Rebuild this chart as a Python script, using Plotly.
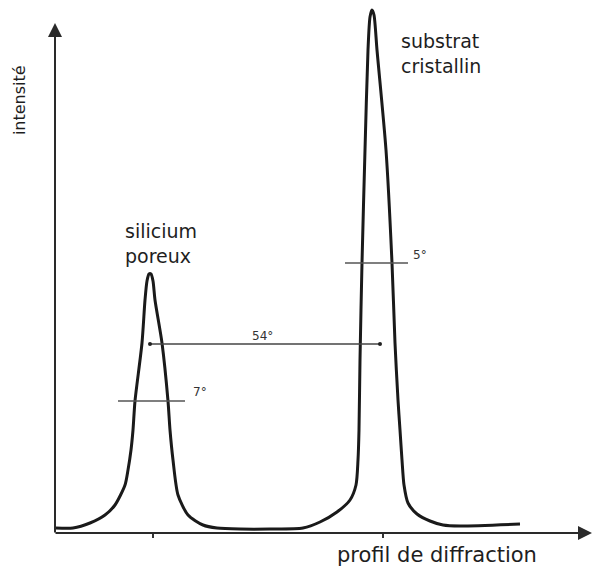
import plotly.graph_objects as go

# Diffraction profile (arbitrary angle units, arbitrary intensity)
angle = [1, 18, 35, 50, 60, 70, 73, 76, 78, 80, 87, 90, 92, 94, 96, 98, 100, 107, 113, 115, 118,
         123, 133, 148, 162, 185, 215, 248, 265, 282, 295, 301, 303, 304, 305, 307, 310, 313,
         315, 317, 319, 322, 331, 337, 340, 343, 345, 347, 349, 353, 362, 375, 388, 405, 465]
intensity = [5, 5, 10, 18, 28, 48, 63, 83, 103, 132, 190, 233, 252, 259, 259, 252, 233, 190, 132, 103, 73,
             38, 18, 8, 5, 4, 4, 5, 11, 21, 33, 48, 73, 103, 173, 270, 383, 483,
             516, 523, 518, 483, 383, 270, 190, 133, 103, 73, 48, 30, 19, 12, 8, 7, 9]

# Measurement bars: (x start, x end, level) and their labels
fwhm_left = (63, 130, 132)
separation = (95, 325, 189)
fwhm_right = (290, 353, 270)
labels_deg = ["7°", "54°", "5°"]
label_pos = [(145, 141), (207, 197), (365, 278)]
peak_names = ["silicium<br>poreux", "substrat<br>cristallin"]
peak_name_pos = [(68, 290), (344, 480)]
tick_positions = [98, 328]

TXT = "#1e1e1e"

fig = go.Figure()

fig.add_trace(go.Scatter(x=angle, y=intensity, mode="lines",
                         line=dict(color="#1a1a1a", width=3, shape="spline", smoothing=0.7),
                         hoverinfo="skip", showlegend=False))

for (x0, x1, yv) in [fwhm_left, fwhm_right]:
    fig.add_trace(go.Scatter(x=[x0, x1], y=[yv, yv], mode="lines",
                             line=dict(color="#555555", width=1.3),
                             hoverinfo="skip", showlegend=False))
fig.add_trace(go.Scatter(x=[separation[0], separation[1]], y=[separation[2]] * 2,
                         mode="lines+markers",
                         line=dict(color="#444444", width=1.3),
                         marker=dict(size=4, color="#222222"),
                         hoverinfo="skip", showlegend=False))

annotations = []
# axes arrows
annotations.append(dict(x=0, y=510, ax=0, ay=-1, xref="x", yref="y", axref="x", ayref="y",
                        showarrow=True, arrowhead=2, arrowsize=1.4, arrowwidth=2,
                        arrowcolor="#2a2a2a", text=""))
annotations.append(dict(x=537, y=0, ax=-1, ay=0, xref="x", yref="y", axref="x", ayref="y",
                        showarrow=True, arrowhead=2, arrowsize=1.4, arrowwidth=2,
                        arrowcolor="#2a2a2a", text=""))

for t, (px, py) in zip(labels_deg, label_pos):
    annotations.append(dict(x=px, y=py, xref="x", yref="y", text=t, showarrow=False,
                            font=dict(family="DejaVu Sans", size=12, color="#333333")))
for t, (px, py) in zip(peak_names, peak_name_pos):
    annotations.append(dict(x=px, y=py, xref="x", yref="y", text=t, showarrow=False,
                            xanchor="left", align="left",
                            font=dict(family="DejaVu Sans", size=19, color=TXT)))

annotations.append(dict(x=0.709, y=-0.041, xref="paper", yref="paper", text="profil de diffraction",
                        xanchor="center", yanchor="middle",
                        showarrow=False, font=dict(family="DejaVu Sans", size=21, color=TXT)))
annotations.append(dict(x=-0.067, y=0.812, xref="paper", yref="paper", text="intensité", textangle=-90,
                        xanchor="center", yanchor="middle",
                        showarrow=False, font=dict(family="DejaVu Sans", size=16, color=TXT)))

fig.update_layout(
    width=594, height=570,
    margin=dict(l=55, r=0, t=0, b=37),
    paper_bgcolor="white", plot_bgcolor="white",
    annotations=annotations,
    xaxis=dict(range=[0, 539], showgrid=False, zeroline=False, showline=False,
               tickvals=tick_positions, ticks="outside", ticklen=4, tickwidth=2,
               tickcolor="#333333", showticklabels=False, fixedrange=True),
    yaxis=dict(range=[0, 533], showgrid=False, zeroline=False, showline=False,
               showticklabels=False, ticks="", fixedrange=True),
)

fig.write_html("out.html")
